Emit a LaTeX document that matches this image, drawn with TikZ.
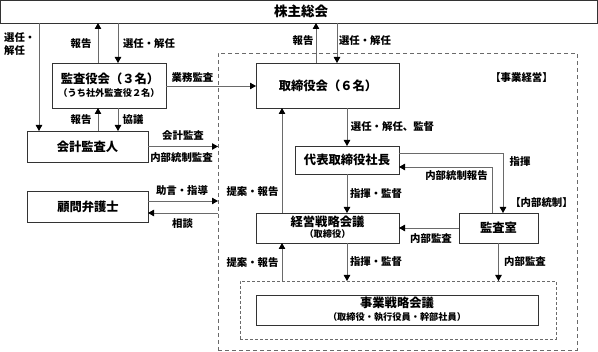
\documentclass[tikz,border=0pt]{standalone}
\usepackage{fontspec}
\setmainfont{Noto Sans CJK JP}
\usetikzlibrary{arrows.meta}
\definecolor{boxc}{HTML}{333333}
\definecolor{linec}{HTML}{6A6A6A}
\begin{document}
\begin{tikzpicture}[x=1pt,y=-1pt,
  box/.style={draw=boxc, line width=0.8pt, inner sep=0pt, outer sep=0pt},
  btext/.style={inner sep=0pt, font=\fontsize{12.3}{14}\selectfont\bfseries},
  bsub/.style={inner sep=0pt, font=\fontsize{9.2}{11}\selectfont\bfseries},
  lab/.style={inner sep=0pt, font=\fontsize{10.4}{12}\selectfont\bfseries},
  conn/.style={draw=linec, line width=0.8pt},
  arr/.style={conn, -{Triangle[length=6pt,width=6.5pt,black]}},
  frame/.style={draw=linec, line width=0.9pt, inner sep=0pt, outer sep=0pt}]
\useasboundingbox (0,0) rectangle (598,352);

% frames
\node[frame, dash pattern=on 4pt off 3pt, minimum width=359pt, minimum height=297pt] (outer) at (397.5,201.5) {};
\node[frame, dash pattern=on 3pt off 2pt, minimum width=316pt, minimum height=58pt] (inner) at (398,310) {};

% boxes
\node[box, minimum width=597pt, minimum height=23pt] (sh) at (298.5,11.5) {};
\node[btext, font=\fontsize{13.5}{15}\selectfont\bfseries] (sh-t) at (301,11.5) {株主総会};

\node[box, minimum width=114pt, minimum height=45pt] (kansa) at (109,85.5) {};
\node[btext] (kansa-t) at (110,79) {監査役会（３名）};
\node[bsub] (kansa-s) at (109,93) {（うち社外監査役２名）};

\node[box, minimum width=121pt, minimum height=31pt] (kaikei) at (87.5,146.5) {};
\node[btext] (kaikei-t) at (87.5,146.5) {会計監査人};

\node[box, minimum width=121pt, minimum height=31pt] (komon) at (87.5,206.5) {};
\node[btext] (komon-t) at (88,206.5) {顧問弁護士};

\node[box, minimum width=143pt, minimum height=45pt] (tori) at (327.5,85.5) {};
\node[btext] (tori-t) at (328,85.5) {取締役会（６名）};

\node[box, minimum width=104pt, minimum height=28pt] (daihyo) at (347,160) {};
\node[btext] (daihyo-t) at (347,160) {代表取締役社長};

\node[box, minimum width=143pt, minimum height=30pt] (keiei) at (327.5,228) {};
\node[btext] (keiei-t) at (327.5,222) {経営戦略会議};
\node[bsub] (keiei-s) at (327.5,234.5) {（取締役）};

\node[box, minimum width=79pt, minimum height=30pt] (shitsu) at (498.5,228) {};
\node[btext] (shitsu-t) at (498.5,228) {監査室};

\node[box, minimum width=282pt, minimum height=30pt] (jigyo) at (397,310) {};
\node[btext] (jigyo-t) at (397,303) {事業戦略会議};
\node[bsub] (jigyo-s) at (397,317.5) {（取締役・執行役員・幹部社員）};

% connectors
\draw[arr] (39,0 |- sh.south) -- (39,0 |- kaikei.north);
\draw[arr] (98,0 |- kansa.north) -- (98,0 |- sh.south);
\draw[arr] (118,0 |- sh.south) -- (118,0 |- kansa.north);
\draw[arr] (98,0 |- kaikei.north) -- (98,0 |- kansa.south);
\draw[arr] (118,0 |- kansa.south) -- (118,0 |- kaikei.north);
\draw[arr] (kansa.east |- 0,86) -- (tori.west |- 0,86);
\draw[arr] (kaikei.east) -- (kaikei.east -| outer.west);
\draw[arr] ([yshift=5.5pt]komon.east) -- ([yshift=5.5pt]komon.east -| outer.west);
\draw[arr] ([yshift=-6.5pt]komon.east -| outer.west) -- ([yshift=-6.5pt]komon.east);
\draw[arr] (316,0 |- tori.north) -- (316,0 |- sh.south);
\draw[arr] (337,0 |- sh.south) -- (337,0 |- tori.north);
\draw[arr] (347,0 |- tori.south) -- (daihyo.north);
\draw[arr] (daihyo.south) -- (347,0 |- keiei.north);
\draw[arr] (282,0 |- keiei.north) -- (282,0 |- tori.south);
\draw[arr] (347,0 |- keiei.south) -- (347,0 |- inner.north);
\draw[arr] (282,0 |- inner.north) -- (282,0 |- keiei.south);
\draw[arr] (shitsu.west) -- (keiei.east);
\draw[arr] (shitsu.south) -- (shitsu.south |- inner.north);
\draw[arr] ([yshift=7pt]daihyo.east) -| ([xshift=4.5pt]shitsu.north);
\draw[arr] ([xshift=-6.5pt]shitsu.north) |- ([yshift=-7pt]daihyo.east);

% labels
\node[lab, anchor=west] (l1a) at (4,37.5) {選任・};
\node[lab, anchor=west] (l1b) at (4,51) {解任};
\node[lab] (l2) at (81,44) {報告};
\node[lab] (l3) at (149,44) {選任・解任};
\node[lab] (l4) at (192.5,78) {業務監査};
\node[lab] (l5) at (81,120) {報告};
\node[lab] (l6) at (133,120) {協議};
\node[lab] (l7) at (183,136) {会計監査};
\node[lab] (l8) at (181.5,157.5) {内部統制監査};
\node[lab] (l9) at (182,191) {助言・指導};
\node[lab] (l10) at (182.5,224) {相談};
\node[lab] (l11) at (303,41) {報告};
\node[lab] (l12) at (365,41) {選任・解任};
\node[lab] (l13) at (521.5,78) {【事業経営】};
\node[lab] (l14) at (392.5,127) {選任・解任、監督};
\node[lab] (l15) at (520,162) {指揮};
\node[lab] (l16) at (456.5,176) {内部統制報告};
\node[lab] (l17) at (541.5,203) {【内部統制】};
\node[lab] (l18) at (376,194) {指揮・監督};
\node[lab] (l19) at (431,239) {内部監査};
\node[lab] (l20) at (376,261.5) {指揮・監督};
\node[lab] (l21) at (525,261.5) {内部監査};
\node[lab] (l22) at (252.5,192) {提案・報告};
\node[lab] (l23) at (252.5,262.5) {提案・報告};
\end{tikzpicture}
\end{document}
